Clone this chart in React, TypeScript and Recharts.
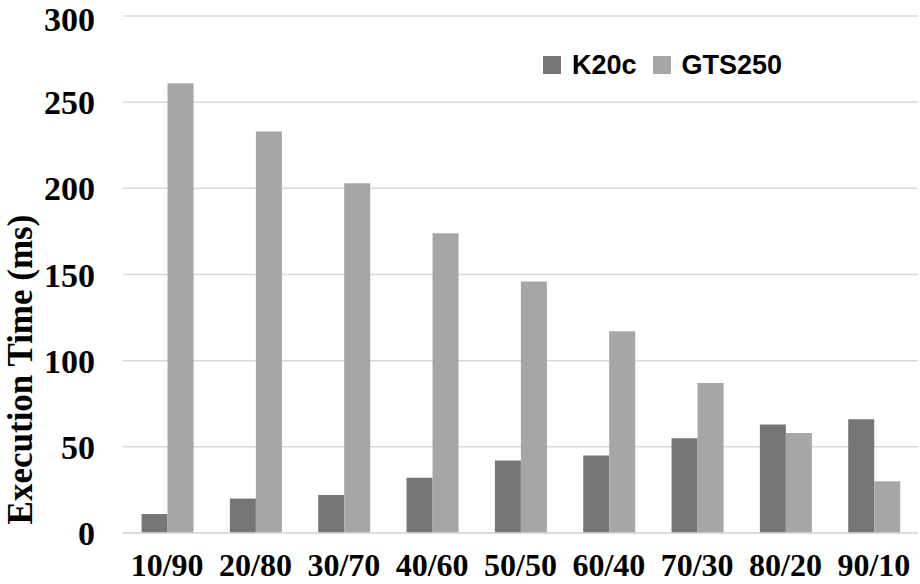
import React from "react";
import {
  BarChart,
  Bar,
  XAxis,
  YAxis,
  CartesianGrid,
} from "recharts";

const RATIOS = ["10/90", "20/80", "30/70", "40/60", "50/50", "60/40", "70/30", "80/20", "90/10"];
const K20C = [11, 20, 22, 32, 42, 45, 55, 63, 66];
const GTS250 = [261, 233, 203, 174, 146, 117, 87, 58, 30];
const Y_TICKS = [0, 50, 100, 150, 200, 250, 300];
const SERIES = [
  { key: "K20c", color: "#767676" },
  { key: "GTS250", color: "#a6a6a6" },
];

const data = RATIOS.map((r, i) => ({ ratio: r, K20c: K20C[i], GTS250: GTS250[i] }));

const SERIF = "'Liberation Serif', 'Times New Roman', serif";
const SANS = "'Liberation Sans', Arial, sans-serif";

// legend drawn as an overlay so it doesn't push the plot area down
function LegendBox() {
  return (
    <div
      style={{
        position: "absolute",
        left: 543,
        top: 50,
        display: "flex",
        alignItems: "center",
        fontFamily: SANS,
        fontWeight: 700,
        fontSize: 27,
        color: "#000",
      }}
    >
      {SERIES.map((s, i) => (
        <div key={s.key} style={{ display: "flex", alignItems: "center", marginRight: i === 0 ? 16 : 0 }}>
          <span style={{ display: "inline-block", width: 18, height: 18, background: s.color, marginRight: 11 }} />
          <span style={{ lineHeight: "30px" }}>{s.key}</span>
        </div>
      ))}
    </div>
  );
}

export default function App() {
  return (
    <div style={{ position: "absolute", left: 0, top: 0, width: 920, height: 584, background: "#fff" }}>
      <BarChart
        width={920}
        height={584}
        data={data}
        margin={{ top: 16, right: 2, left: 0, bottom: 0 }}
        barCategoryGap="21%"
        barGap={0}
      >
        <CartesianGrid vertical={false} stroke="#d9d9d9" strokeWidth={1.5} />
        <XAxis
          dataKey="ratio"
          height={51}
          tickLine={false}
          tickSize={0}
          tickMargin={20}
          axisLine={{ stroke: "#d9d9d9", strokeWidth: 1.5 }}
          tick={{ fill: "#000", fontFamily: SERIF, fontWeight: 700, fontSize: 32 }}
          interval={0}
        />
        <YAxis
          width={123}
          domain={[0, 300]}
          ticks={Y_TICKS}
          axisLine={false}
          tickLine={false}
          tickSize={0}
          tickMargin={28}
          tick={{ fill: "#000", fontFamily: SERIF, fontWeight: 700, fontSize: 34 }}
          label={{
            value: "Execution Time (ms)",
            angle: -90,
            position: "insideLeft",
            dx: 15,
            dy: 95,
            style: { fill: "#000", fontFamily: SERIF, fontWeight: 700, fontSize: 35, textAnchor: "middle" },
          }}
        />
        {SERIES.map((s) => (
          <Bar key={s.key} dataKey={s.key} fill={s.color} isAnimationActive={false} />
        ))}
      </BarChart>
      <LegendBox />
    </div>
  );
}
